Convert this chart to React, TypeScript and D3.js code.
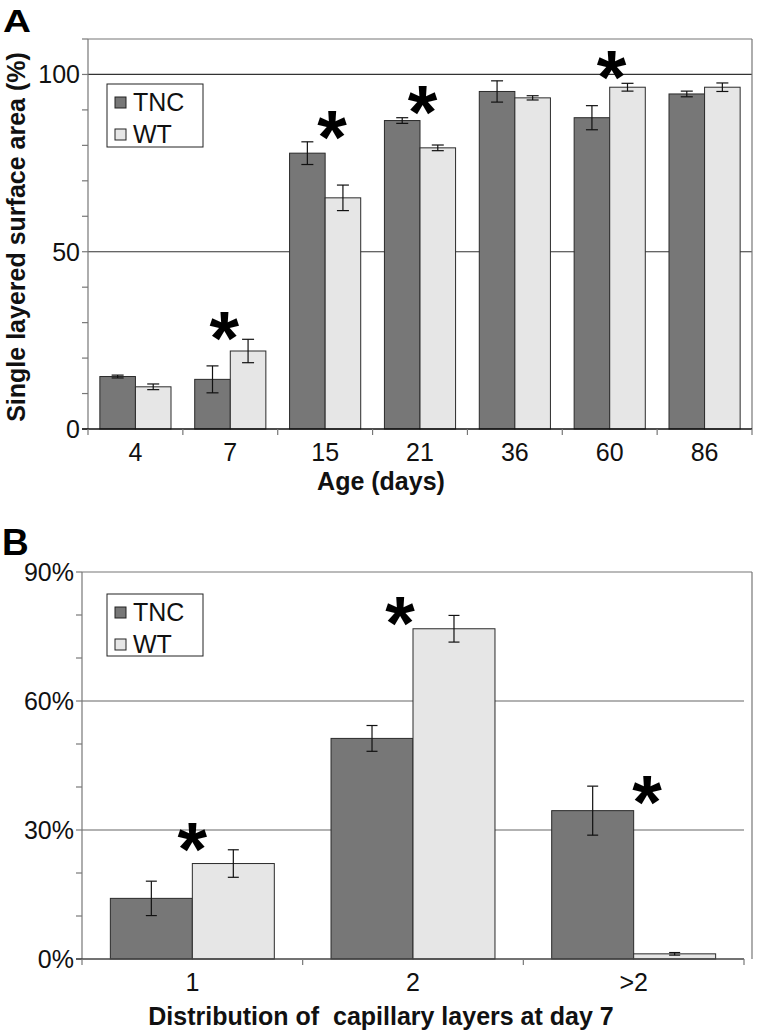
import React from 'react';
import * as d3 from 'd3';

// ---------- Data ----------
const seriesNames = ['TNC', 'WT'];
const seriesFill = ['#777777', '#e6e6e6'];

const ageCategories = ['4', '7', '15', '21', '36', '60', '86'];
const tncSurface = [14.8, 14.0, 77.8, 87.0, 95.2, 87.8, 94.5];
const tncSurfaceErr = [0.4, 3.8, 3.2, 0.8, 3.0, 3.4, 0.8];
const wtSurface = [11.9, 22.0, 65.2, 79.3, 93.4, 96.4, 96.4];
const wtSurfaceErr = [0.8, 3.3, 3.6, 0.8, 0.6, 1.1, 1.2];
const surfaceTicks = [0, 50, 100];
const surfaceStars = [
  { cat: '7', v: 30, dx: -0.063 },
  { cat: '15', v: 86.7, dx: 0.074 },
  { cat: '21', v: 93.8, dx: 0.026 },
  { cat: '60', v: 103.7, dx: 0.02 },
];

const layerCategories = ['1', '2', '>2'];
const tncLayers = [14.1, 51.3, 34.5];
const tncLayersErr = [4.0, 3.0, 5.7];
const wtLayers = [22.2, 76.8, 1.2];
const wtLayersErr = [3.2, 3.1, 0.3];
const layerTicks = [0, 30, 60, 90];
const layerStars = [
  { cat: '1', v: 29.3, dx: 0 },
  { cat: '2', v: 81.9, dx: -0.059 },
  { cat: '>2', v: 40.2, dx: 0.061 },
];

const FONT = '"Liberation Sans", Arial, sans-serif';

type PanelProps = {
  cats: string[];
  vals: number[][];
  errs: number[][];
  ticks: number[];
  yMax: number;
  minorStep: number;
  gridVals: number[];
  fmt: (v: number) => string;
  stars: { cat: string; v: number; dx: number }[];
  left: number;
  right: number;
  boxRight: number;
  top: number;
  bottom: number;
  groupFrac: number;
  axisColor: string;
  gridColor: string;
  baseColor: string;
  legend: { x: number; y: number; w: number; h: number };
  capW: number;
};

function Panel(p: PanelProps) {
  const y = d3.scaleLinear().domain([0, p.yMax]).range([p.bottom, p.top]);
  const pad = 1 - p.groupFrac;
  const x = d3
    .scaleBand<string>()
    .domain(p.cats)
    .range([p.left, p.right])
    .paddingInner(pad)
    .paddingOuter(pad / 2);
  const sub = d3.scaleBand<number>().domain([0, 1]).range([0, x.bandwidth()]);
  const step = x.step();
  const minor = d3.range(0, p.yMax + 0.001, p.minorStep);
  const boundaries = d3.range(p.cats.length + 1).map((i) => p.left + i * step);
  const starFs = 76;

  return (
    <g>
      {/* gridlines */}
      {p.gridVals.map((g) => (
        <line key={'g' + g} x1={p.left} x2={p.right} y1={y(g)} y2={y(g)} stroke={p.gridColor} strokeWidth={1.2} />
      ))}
      {/* box top and right */}
      <line x1={p.left} x2={p.boxRight} y1={y(p.yMax)} y2={y(p.yMax)} stroke={p.axisColor} strokeWidth={1.2} />
      <line x1={p.boxRight} x2={p.boxRight} y1={y(p.yMax)} y2={p.bottom} stroke={p.axisColor} strokeWidth={1.2} />
      {/* bars */}
      {p.cats.map((c, ci) =>
        [0, 1].map((si) => {
          const bx = (x(c) as number) + (sub(si) as number);
          const v = p.vals[si][ci];
          return (
            <rect
              key={c + si}
              x={bx}
              y={y(v)}
              width={sub.bandwidth()}
              height={p.bottom - y(v)}
              fill={seriesFill[si]}
              stroke="#2a2a2a"
              strokeWidth={1}
            />
          );
        })
      )}
      {/* error bars */}
      {p.cats.map((c, ci) =>
        [0, 1].map((si) => {
          const cx = (x(c) as number) + (sub(si) as number) + sub.bandwidth() / 2;
          const v = p.vals[si][ci];
          const e = p.errs[si][ci];
          const y1 = y(v + e);
          const y2 = y(v - e);
          return (
            <g key={'e' + c + si} stroke="#111" strokeWidth={1.2}>
              <line x1={cx} x2={cx} y1={y1} y2={y2} />
              <line x1={cx - p.capW / 2} x2={cx + p.capW / 2} y1={y1} y2={y1} />
              <line x1={cx - p.capW / 2} x2={cx + p.capW / 2} y1={y2} y2={y2} />
            </g>
          );
        })
      )}
      {/* y axis */}
      <line x1={p.left} x2={p.left} y1={y(p.yMax)} y2={p.bottom} stroke={p.axisColor} strokeWidth={1.2} />
      {minor.map((m) => (
        <line key={'m' + m} x1={p.left - 6} x2={p.left} y1={y(m)} y2={y(m)} stroke={p.axisColor} strokeWidth={1.2} />
      ))}
      {p.ticks.map((t) => (
        <text key={'t' + t} x={p.left - 8} y={y(t) + 9} textAnchor="end" fontFamily={FONT} fontSize={25} fill="#111">
          {p.fmt(t)}
        </text>
      ))}
      {/* x axis */}
      <line x1={p.left - 6} x2={p.right} y1={p.bottom} y2={p.bottom} stroke={p.baseColor} strokeWidth={1.6} />
      {boundaries.map((b, i) => (
        <line key={'b' + i} x1={b} x2={b} y1={p.bottom} y2={p.bottom + 6} stroke={p.axisColor} strokeWidth={1.2} />
      ))}
      {p.cats.map((c) => (
        <text
          key={'xl' + c}
          x={(x(c) as number) + x.bandwidth() / 2}
          y={p.bottom + 32}
          textAnchor="middle"
          fontFamily={FONT}
          fontSize={25}
          fill="#111"
        >
          {c}
        </text>
      ))}
      {/* stars */}
      {p.stars.map((s) => (
        <text
          key={'s' + s.cat}
          x={(x(s.cat) as number) + x.bandwidth() / 2 + s.dx * step}
          y={y(s.v) + starFs * 0.55}
          textAnchor="middle"
          fontFamily={FONT}
          fontWeight="bold"
          fontSize={starFs}
          fill="#000"
        >
          *
        </text>
      ))}
      {/* legend */}
      <rect x={p.legend.x} y={p.legend.y} width={p.legend.w} height={p.legend.h} fill="#fff" stroke="#222" strokeWidth={1} />
      {seriesNames.map((n, i) => (
        <g key={'l' + n}>
          <rect
            x={p.legend.x + 8}
            y={p.legend.y + 13 + i * 32}
            width={11}
            height={11}
            fill={seriesFill[i]}
            stroke="#222"
            strokeWidth={1}
          />
          <text x={p.legend.x + 26} y={p.legend.y + 27 + i * 32} fontFamily={FONT} fontSize={25} fill="#111">
            {n}
          </text>
        </g>
      ))}
    </g>
  );
}

export default function App() {
  return (
    <svg
      width={760}
      height={1034}
      style={{ position: 'absolute', left: 0, top: 0, background: '#fff' }}
      xmlns="http://www.w3.org/2000/svg"
    >
      <rect width={760} height={1034} fill="#fff" />
      {/* Panel A */}
      <text x={3} y={32} fontFamily={FONT} fontWeight="bold" fontSize={31} transform="translate(3,0) scale(1.25,1) translate(-3,0)">
        A
      </text>
      <Panel
        cats={ageCategories}
        vals={[tncSurface, wtSurface]}
        errs={[tncSurfaceErr, wtSurfaceErr]}
        ticks={surfaceTicks}
        yMax={110}
        minorStep={10}
        gridVals={[50, 100]}
        fmt={(v) => String(v)}
        stars={surfaceStars}
        left={88}
        right={752}
        boxRight={752}
        top={39}
        bottom={429}
        groupFrac={0.75}
        axisColor="#777"
        gridColor="#333"
        baseColor="#111"
        legend={{ x: 107, y: 84, w: 96, h: 63 }}
        capW={12}
      />
      <text
        transform="translate(25,237) rotate(-90)"
        textAnchor="middle"
        fontFamily={FONT}
        fontWeight="bold"
        fontSize={25}
        fill="#111"
      >
        Single layered surface area (%)
      </text>
      <text x={381} y={490} textAnchor="middle" fontFamily={FONT} fontWeight="bold" fontSize={25} fill="#111">
        Age (days)
      </text>

      {/* Panel B */}
      <text x={2} y={555} fontFamily={FONT} fontWeight="bold" fontSize={37}>
        B
      </text>
      <Panel
        cats={layerCategories}
        vals={[tncLayers, wtLayers]}
        errs={[tncLayersErr, wtLayersErr]}
        ticks={layerTicks}
        yMax={90}
        minorStep={10}
        gridVals={[30, 60]}
        fmt={(v) => d3.format('.0%')(v / 100)}
        stars={layerStars}
        left={82}
        right={744}
        boxRight={752}
        top={572}
        bottom={959}
        groupFrac={0.743}
        axisColor="#777"
        gridColor="#666"
        baseColor="#444"
        legend={{ x: 107, y: 594, w: 96, h: 62 }}
        capW={11}
      />
      <text x={381} y={1025} textAnchor="middle" fontFamily={FONT} fontWeight="bold" fontSize={25} fill="#111" style={{ whiteSpace: 'pre' }}>
        {'Distribution of  capillary layers at day 7'}
      </text>
    </svg>
  );
}
